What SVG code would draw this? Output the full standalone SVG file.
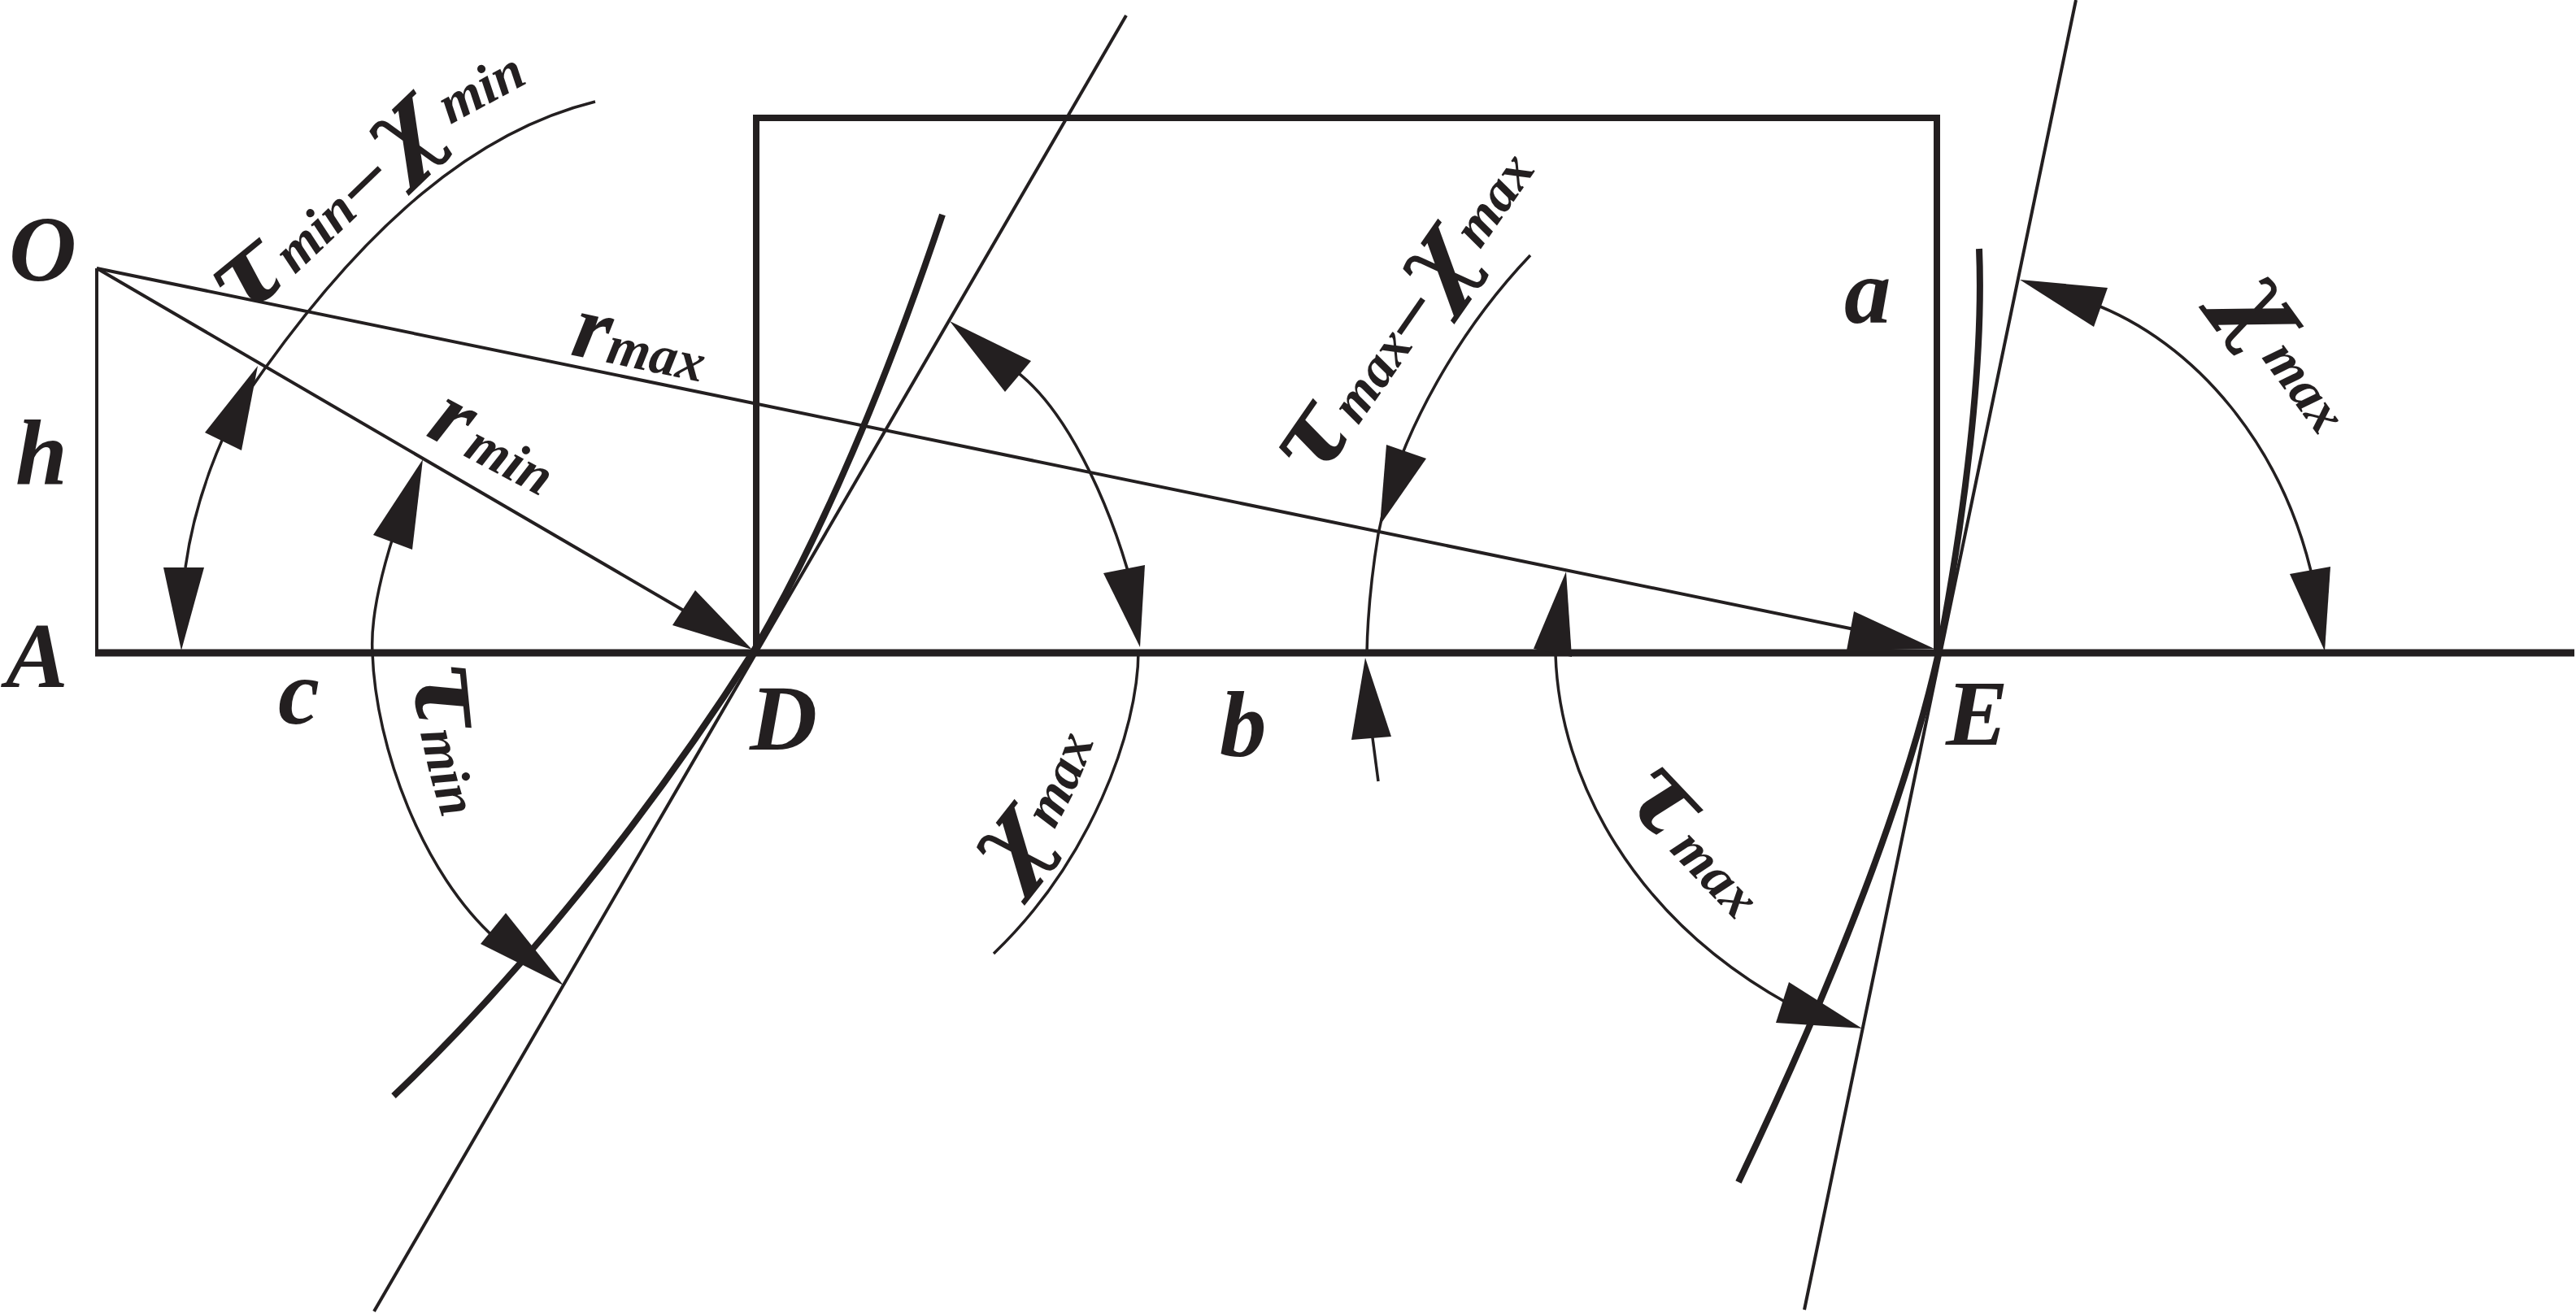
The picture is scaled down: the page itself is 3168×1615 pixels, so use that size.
<svg xmlns="http://www.w3.org/2000/svg" width="3168" height="1615" viewBox="0 0 3168 1615">
<style>
.thin{fill:none;stroke:#231f20;stroke-width:4}
.arc{fill:none;stroke:#231f20;stroke-width:3.5}
.curve{fill:none;stroke:#231f20;stroke-width:8}
.bold{fill:none;stroke:#231f20;stroke-width:9}
.frame{fill:none;stroke:#231f20;stroke-width:8;stroke-linejoin:miter}
.head{fill:#231f20}
text{font-family:"Liberation Serif",serif;font-weight:bold;font-style:italic;fill:#231f20;font-size:115px}
.g{font-family:"DejaVu Serif",serif;font-size:125px}
.s{font-size:68px}
.d{font-size:100px;font-style:normal}
</style>
<defs>
<path id="p1" d="M295 395L350 350L440 265L560 150L680 85L760 20"/>
<path id="p2" d="M1620 596L1920 164"/>
<path id="p3" d="M700 436L900 478"/>
<path id="p4" d="M522 535L720 640"/>
<path id="p5" d="M510 818Q505 890 555 1040"/>
<path id="p6" d="M1242 1090Q1317 1020 1365 850"/>
<path id="p7" d="M1990 980L2170 1170"/>
<path id="p8" d="M2729 368L2904 609"/>
</defs>
<rect width="3168" height="1615" fill="#fff"/>
<g id="connectors">
<path class="bold" d="M117 803H3166"/>
<path class="frame" d="M930 803V145H2382V803"/>
<path class="thin" d="M119 803V330"/>
<path class="thin" d="M119 330L870 768"/>
<path class="thin" d="M119 330L2285 775"/>
<path class="thin" d="M1385 19L460 1613"/>
<path class="thin" d="M2553 0L2219 1611"/>
<path class="curve" d="M484 1348C640 1200 800 1000 926 802C1010 660 1090 470 1159 264"/>
<path class="curve" d="M2138 1454C2240 1240 2340 1000 2384 803C2415 640 2440 450 2434 306"/>
<path class="arc" d="M732 125C590 160 450 270 300 490C275 530 240 610 228 698"/>
<path class="arc" d="M490 640C463 720 456 770 458 803C462 920 520 1075 610 1155"/>
<path class="arc" d="M1882 314C1800 400 1720 530 1695 657C1688 700 1682 750 1681 803"/>
<path class="arc" d="M1687 900L1695 961"/>
<path class="arc" d="M1913 805C1918 960 2010 1130 2200 1235"/>
<path class="arc" d="M2570 372C2700 420 2810 550 2846 720"/>
<path class="arc" d="M1240 450C1310 495 1365 620 1392 720"/>
<path class="arc" d="M1400 800C1400 900 1340 1060 1222 1173"/>
<polygon class="head" points="317,450 252,532 297,554"/>
<polygon class="head" points="201,698 251,698 223,800"/>
<polygon class="head" points="520,565 459,658 507,676"/>
<polygon class="head" points="622,1123 591,1161 693,1212"/>
<polygon class="head" points="925,799 855,726 827,769"/>
<polygon class="head" points="2379,798 2280,752 2271,800"/>
<polygon class="head" points="1697,646 1705,547 1754,564"/>
<polygon class="head" points="1679,809 1662,910 1711,906"/>
<polygon class="head" points="1926,703 1886,798 1933,808"/>
<polygon class="head" points="2200,1208 2184,1258 2290,1265"/>
<polygon class="head" points="2484,344 2592,354 2575,402"/>
<polygon class="head" points="2816,706 2866,697 2859,801"/>
<polygon class="head" points="1168,395 1268,444 1236,482"/>
<polygon class="head" points="1357,705 1408,695 1402,796"/>
</g>
<g id="node-O"><text x="11" y="345">O</text></g>
<g id="node-h"><text x="19" y="596">h</text></g>
<g id="node-A"><text x="7" y="845">A</text></g>
<g id="node-c"><text x="342" y="890">c</text></g>
<g id="node-D"><text x="922" y="922">D</text></g>
<g id="node-E"><text x="2393" y="916">E</text></g>
<g id="node-a"><text x="2268" y="397">a</text></g>
<g id="node-b"><text x="1500" y="930">b</text></g>
<g id="label-tmin-xmin"><text><textPath href="#p1"><tspan class="g">τ</tspan><tspan class="s" dx="4">min</tspan><tspan class="d" dx="6">–</tspan><tspan class="g" dx="10">χ</tspan><tspan class="s" dx="8">min</tspan></textPath></text></g>
<g id="label-tmax-xmax"><text><textPath href="#p2"><tspan class="g">τ</tspan><tspan class="s" dx="4">max</tspan><tspan class="d" dx="2">–</tspan><tspan class="g" dx="4">χ</tspan><tspan class="s" dx="4">max</tspan></textPath></text></g>
<g id="label-rmax"><text><textPath href="#p3">r<tspan class="s">max</tspan></textPath></text></g>
<g id="label-rmin"><text><textPath href="#p4">r<tspan class="s" dx="8">min</tspan></textPath></text></g>
<g id="label-tmin"><text><textPath href="#p5"><tspan class="g">τ</tspan><tspan class="s">min</tspan></textPath></text></g>
<g id="label-xmax-d"><text><textPath href="#p6"><tspan class="g">χ</tspan><tspan class="s" dx="6">max</tspan></textPath></text></g>
<g id="label-tmax"><text><textPath href="#p7"><tspan class="g">τ</tspan><tspan class="s" dx="6">max</tspan></textPath></text></g>
<g id="label-xmax-e"><text><textPath href="#p8"><tspan class="g">χ</tspan><tspan class="s" dx="6">max</tspan></textPath></text></g>
</svg>
